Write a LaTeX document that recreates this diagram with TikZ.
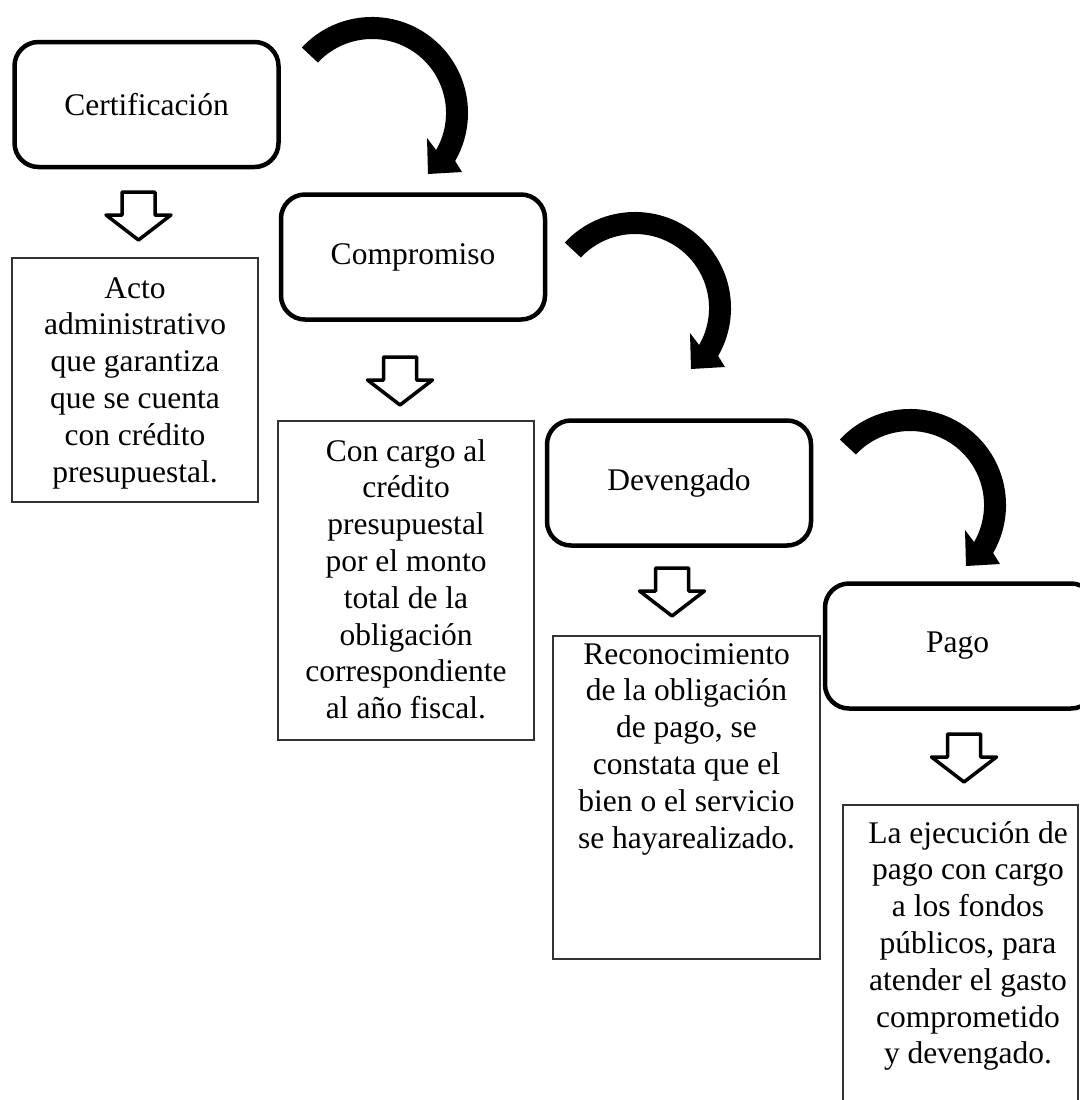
\documentclass[tikz,border=0pt]{standalone}
\usepackage{fontspec}
\setmainfont{Liberation Serif}
\begin{document}
\begin{tikzpicture}[x=1pt,y=1pt,
  txtfont/.style={font=\fontsize{31.5}{36.8}\selectfont},
  rbox/.style={draw, line width=4.5pt, rounded corners=24pt, minimum width=264pt, minimum height=125pt, inner sep=0pt, txtfont},
  tbox/.style={draw=black!80, line width=1.3pt, inner sep=0pt},
  ttext/.style={align=center, anchor=base, inner sep=0pt, txtfont},
  downarrow/.pic={\draw[line width=3.5pt, line join=round] (-16.5,0) -- (16.5,0) -- (16.5,-23) -- (32.5,-23) -- (0,-48) -- (-32.5,-23) -- (-16.5,-23) -- cycle;},
  curvearrow/.pic={\fill (-70.2,65.5) arc[start angle=137,end angle=-30,radius=96] -- (90,-59) -- (56,-61) -- (55,-25) -- (64.1,-37) arc[start angle=-30,end angle=137,radius=74] -- cycle;}
]
\useasboundingbox (0,0) rectangle (1079,-1100);

% step boxes
\node[rbox] (cert) at (146.5,-104.5) {Certificación};
\node[rbox] (comp) at (413,-257) {Compromiso};
\node[rbox] (dev) at (679,-483) {Devengado};
\node[rbox, minimum width=270pt] (pago) at (960,-646) {};
\node[txtfont] (pagotxt) at (957.5,-646) {Pago};

% description boxes
\node[tbox, minimum width=246pt, minimum height=244pt] (t1) at (135,-380) {};
\node[tbox, minimum width=256pt, minimum height=319pt] (t2) at (406,-580.5) {};
\node[tbox, minimum width=267pt, minimum height=323pt] (t3) at (686.5,-797.5) {};
\node[tbox, minimum width=235pt, minimum height=315pt] (t4) at (960.5,-962.5) {};

% texts (anchored at the baseline of their last line)
\node[ttext] (t1txt) at (135,-482) {Acto\\administrativo\\que garantiza\\que se cuenta\\con crédito\\presupuestal.};
\node[ttext] (t2txt) at (406,-718.6) {Con cargo al\\crédito\\presupuestal\\por el monto\\total de la\\obligación\\correspondiente\\al año fiscal.};
\node[ttext] (t3txt) at (686.5,-848) {Reconocimiento\\de la obligación\\de pago, se\\constata que el\\bien o el servicio\\se hayarealizado.};
\node[ttext] (t4txt) at (968,-1063.8) {La ejecución de\\pago con cargo\\a los fondos\\públicos, para\\atender el gasto\\comprometido\\y devengado.};

% down arrows
\pic at (138.5,-192) {downarrow};
\pic at (400,-357) {downarrow};
\pic at (672,-568) {downarrow};
\pic at (964,-734) {downarrow};

% curved arrows
\pic at (372,-113) {curvearrow};
\pic at (635,-308) {curvearrow};
\pic at (910,-505) {curvearrow};
\end{tikzpicture}
\end{document}
